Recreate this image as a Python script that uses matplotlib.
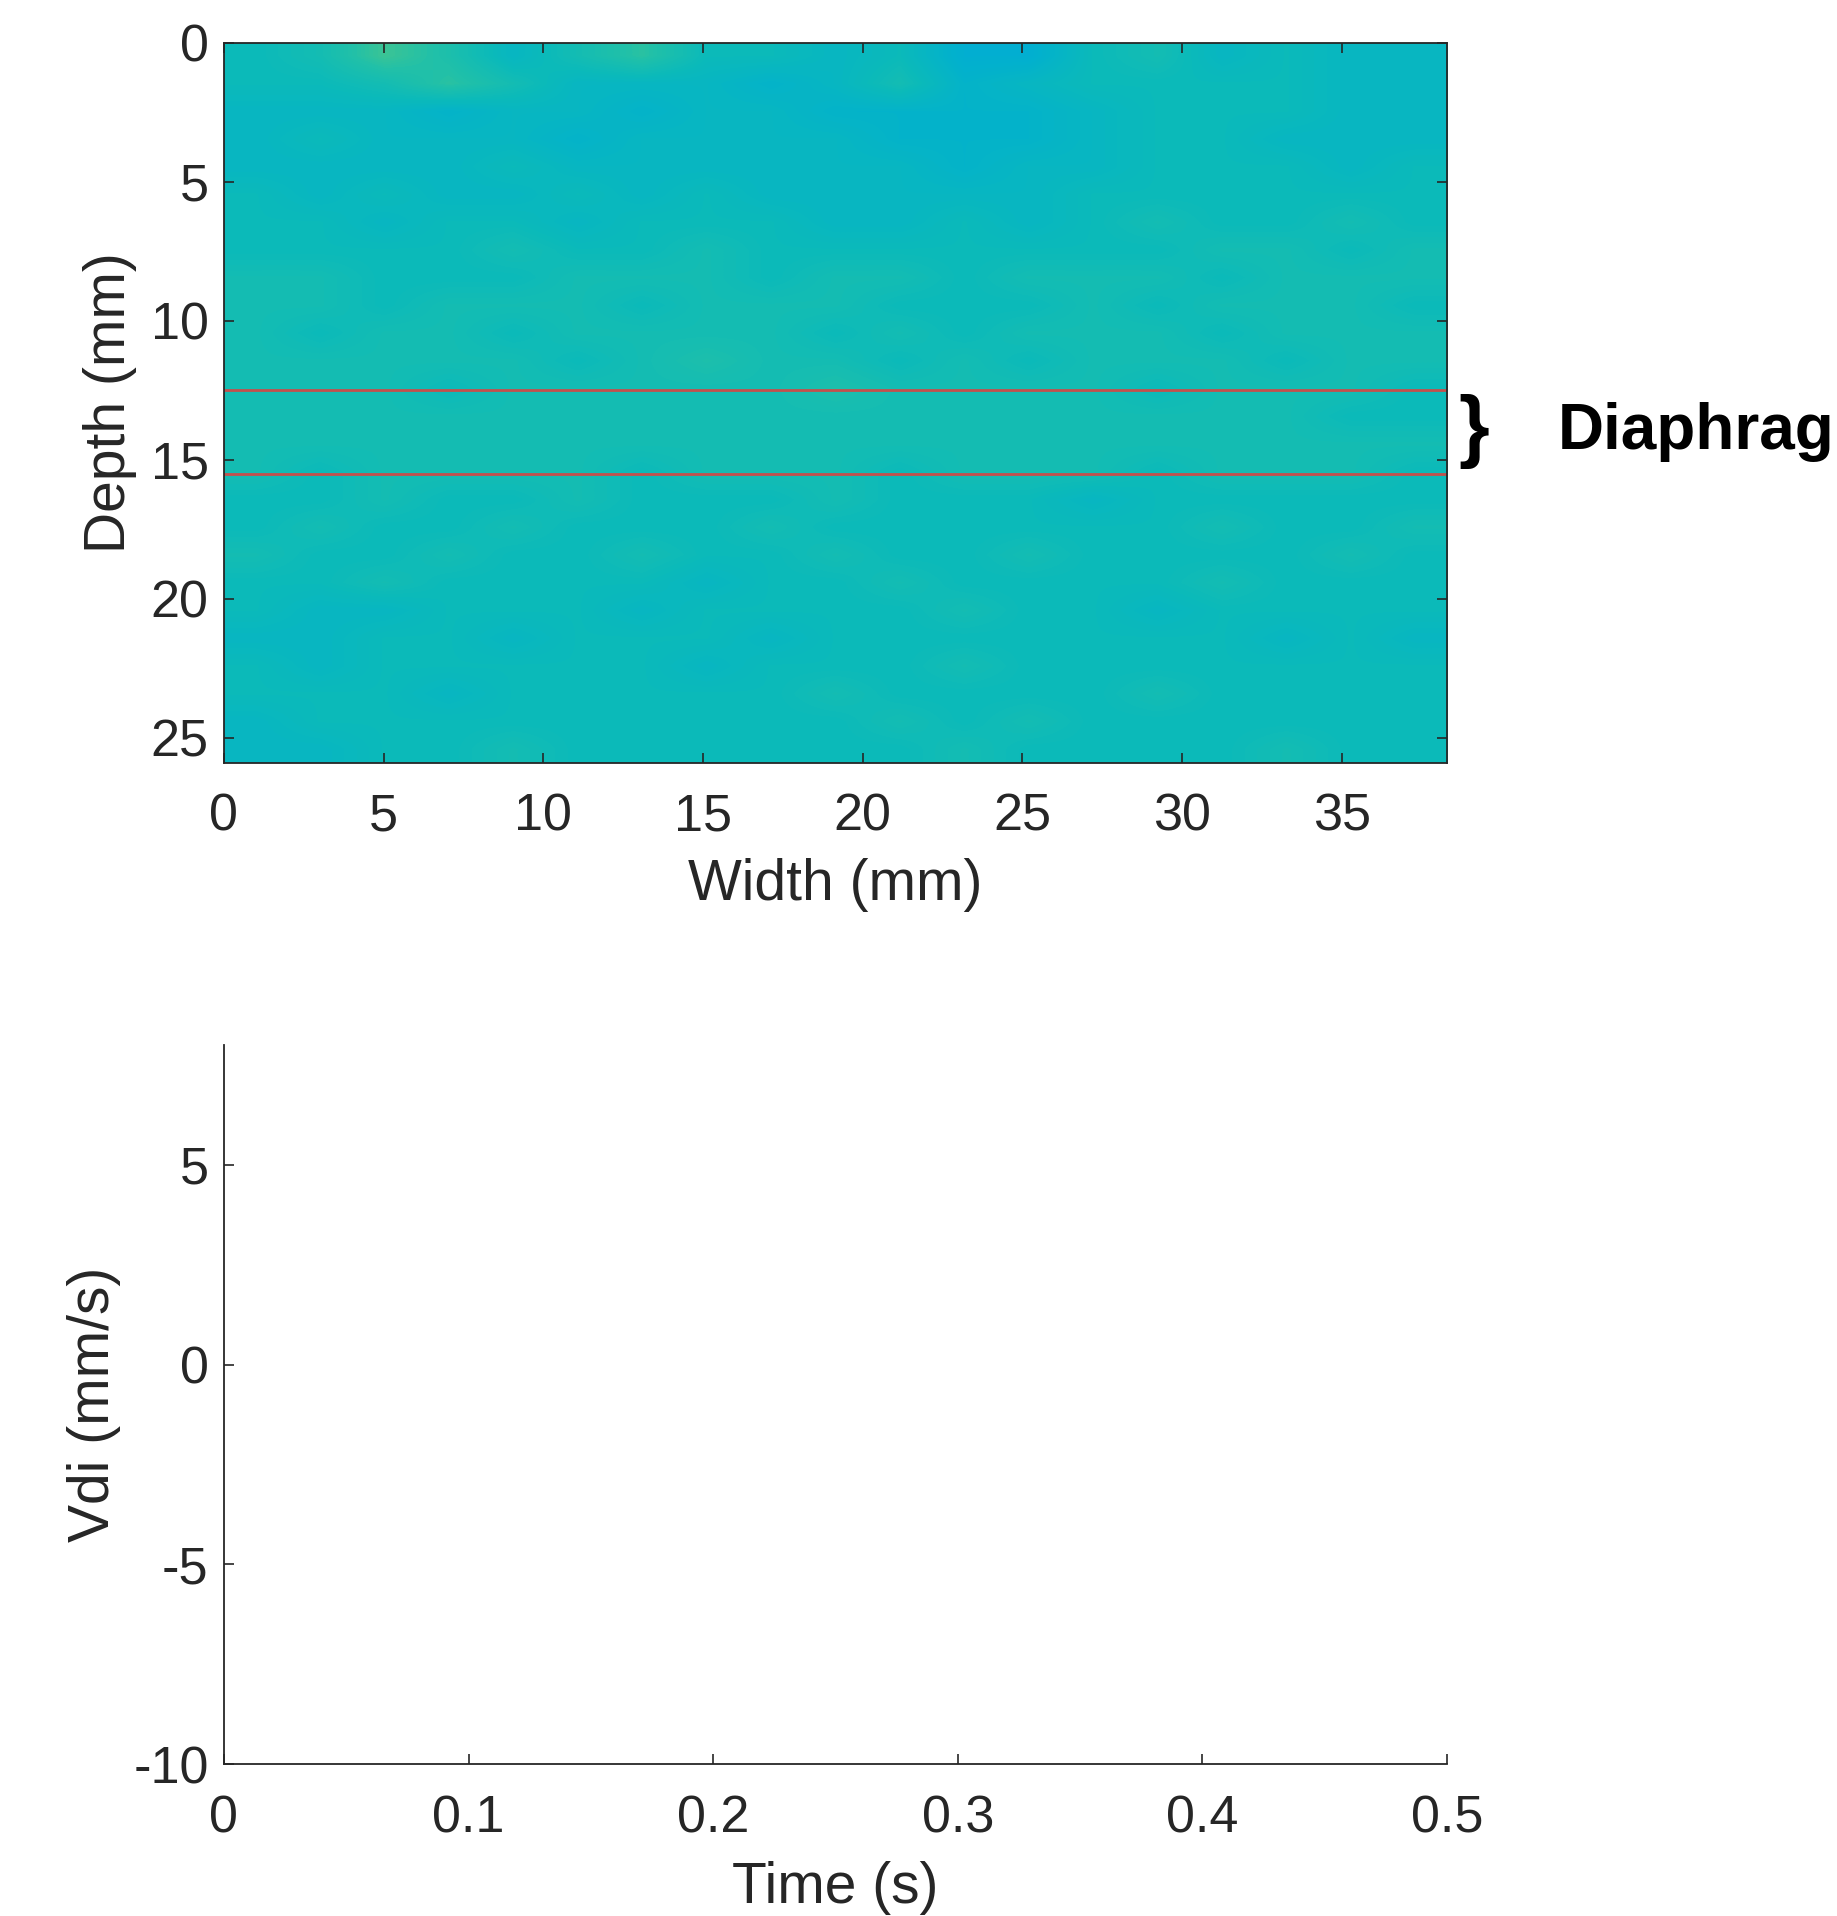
import matplotlib
matplotlib.use('Agg')
import matplotlib.pyplot as plt
import numpy as np
from matplotlib.colors import LinearSegmentedColormap
from matplotlib.transforms import blended_transform_factory

plt.rcParams['font.family'] = ['Liberation Sans', 'DejaVu Sans']
plt.rcParams['axes.unicode_minus'] = False

# 图像亮度等级 (每行 1 mm 深度, 每列约 2 mm 宽度)
image_rows = [
    "4586357443411453433",
    "4457533323523444433",
    "3332332332222344433",
    "3433323333222344333",
    "3333433333323344434",
    "4343343433333444444",
    "4434434443343454454",
    "4444544544444445545",
    "5544455545545554555",
    "5545554555444545554",
    "5455455554545554555",
    "5555545655454555455",
    "5554555556555545554",
    "5555555555555555544",
    "5555555555555555555",
    "5455554555455545554",
    "4454454445444344444",
    "4544544454444445445",
    "5445445445445444454",
    "4454444344544445444",
    "4334443444454434444",
    "3344344434444444343",
    "4344444344454444444",
    "4443444445444454444",
    "3444444444545444444",
    "3344544444454444544",
]
width_mm = 38.3
depth_mm = 25.9
boundary_depths = [12.5, 15.5]   # 红线: 膈肌上下边界
brace_depth = 14.0
label_text = "Diaphrag"

time_lim = [0, 0.5]
time_ticks = [0, 0.1, 0.2, 0.3, 0.4, 0.5]
time_labels = ['0', '0.1', '0.2', '0.3', '0.4', '0.5']
vdi_lim = [-10, 8]
vdi_ticks = [-10, -5, 0, 5]

levels = np.array([[int(ch) for ch in row] for row in image_rows], dtype=float)
values = 0.37 + levels * 0.02

# 近似 parula 色图
parula = LinearSegmentedColormap.from_list('parula_like', [
    (0.00, (0.2422, 0.1504, 0.6603)),
    (0.15, (0.2700, 0.3500, 0.9600)),
    (0.28, (0.1000, 0.5800, 0.9300)),
    (0.34, (0.0000, 0.6500, 0.8800)),
    (0.40, (0.0100, 0.6950, 0.8050)),
    (0.45, (0.0450, 0.7300, 0.7300)),
    (0.50, (0.1300, 0.7550, 0.6600)),
    (0.58, (0.4000, 0.7900, 0.4600)),
    (0.70, (0.7900, 0.7600, 0.2000)),
    (0.85, (0.9900, 0.7700, 0.2300)),
    (1.00, (0.9769, 0.9839, 0.0805)),
])

tick_color = (0.15, 0.15, 0.15)
fig = plt.figure(figsize=(18.37, 19.16), dpi=100)
ax1 = fig.add_axes([0.1219, 0.6018, 0.6658, 0.3758])
ax2 = fig.add_axes([0.1219, 0.0793, 0.6658, 0.3753])

# 上图: 超声图像
ax1.imshow(values, cmap=parula, vmin=0, vmax=1, aspect='auto',
           extent=[0, width_mm, depth_mm, 0], interpolation='bilinear')
for d in boundary_depths:
    ax1.axhline(d, color='#C4504C', lw=2)
ax1.set_xlim(0, width_mm)
ax1.set_ylim(depth_mm, 0)
ax1.set_xticks(np.arange(0, 36, 5))
ax1.set_yticks(np.arange(0, 26, 5))
ax1.tick_params(axis='both', direction='in', length=7.2, width=1.2, colors=tick_color,
                labelsize=37.5, top=True, right=True)
ax1.tick_params(axis='x', pad=21)
ax1.tick_params(axis='y', pad=11)
for s in ax1.spines.values():
    s.set_color(tick_color)
    s.set_linewidth(1.3)
ax1.set_xlabel('Width (mm)', fontsize=41, color=tick_color)
ax1.set_ylabel('Depth (mm)', fontsize=41, color=tick_color)
ax1.xaxis.label.set_va('center')
ax1.yaxis.label.set_va('center')
ax1.xaxis.set_label_coords(0.5, -0.1694)
ax1.yaxis.set_label_coords(-0.0932, 0.5)

tr = blended_transform_factory(ax1.transAxes, ax1.transData)
ax1.text(1.0215, brace_depth + 0.7, '}', transform=tr, ha='center', va='baseline',
         fontsize=57, fontweight='bold', color='black', clip_on=False)
ax1.text(1.0905, brace_depth, label_text, transform=tr, ha='left', va='center',
         fontsize=46, fontweight='bold', color='black', clip_on=False)

# 下图: 速度曲线 (空)
ax2.set_xlim(time_lim)
ax2.set_ylim(vdi_lim)
ax2.set_xticks(time_ticks)
ax2.set_xticklabels(time_labels)
ax2.set_yticks(vdi_ticks)
ax2.spines['top'].set_visible(False)
ax2.spines['right'].set_visible(False)
for s in ['left', 'bottom']:
    ax2.spines[s].set_color(tick_color)
    ax2.spines[s].set_linewidth(1.3)
ax2.tick_params(axis='both', direction='in', length=7.2, width=1.2, colors=tick_color,
                labelsize=37.5)
ax2.tick_params(axis='x', pad=22)
ax2.tick_params(axis='y', pad=11)
ax2.set_xlabel('Time (s)', fontsize=41, color=tick_color)
ax2.set_ylabel('Vdi (mm/s)', fontsize=41, color=tick_color)
ax2.xaxis.label.set_va('center')
ax2.yaxis.label.set_va('center')
ax2.xaxis.set_label_coords(0.5, -0.1725)
ax2.yaxis.set_label_coords(-0.1063, 0.5)

fig.savefig('out.png', dpi=100)
